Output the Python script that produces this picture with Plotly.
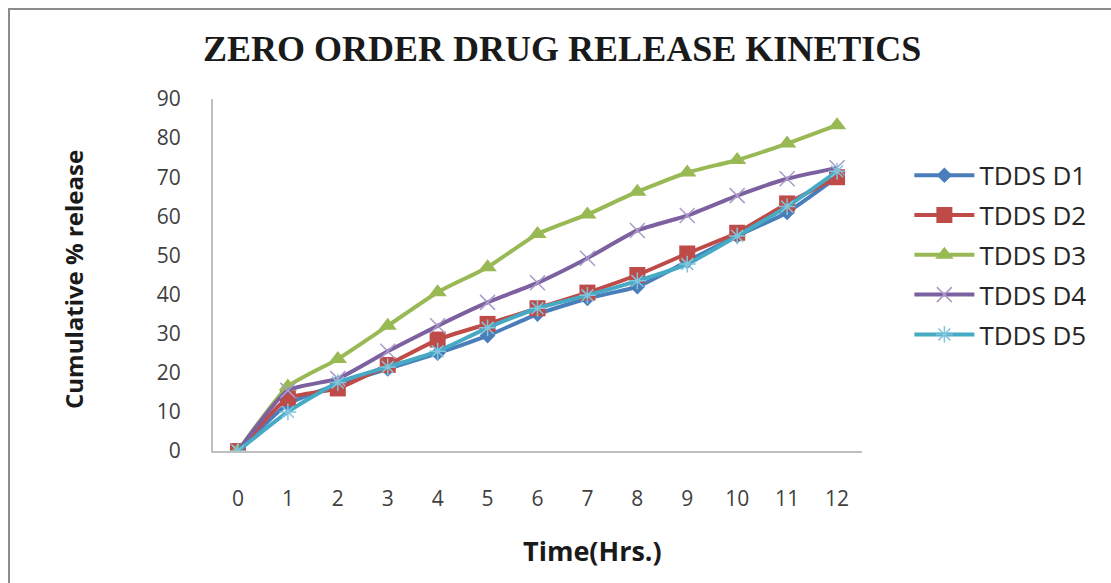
import plotly.graph_objects as go

# Sampling times (hours) and cumulative % drug released for each formulation
hours = ["0", "1", "2", "3", "4", "5", "6", "7", "8", "9", "10", "11", "12"]
d1 = [0, 12, 17, 21, 25, 29.5, 35, 39, 42, 48.5, 55, 61, 70]
d2 = [0, 13.5, 16, 22, 28.5, 32.5, 36.5, 40.5, 45, 50.5, 55.8, 63.3, 70]
d3 = [0, 16.5, 23.5, 32, 40.6, 47, 55.5, 60.5, 66.3, 71.2, 74.4, 78.6, 83.3]
d4 = [0, 15.5, 18.5, 25.5, 32, 38, 43, 49.3, 56.4, 60.2, 65.3, 69.6, 72.4]
d5 = [0, 10, 17.5, 21.5, 25.5, 31.5, 36.5, 39.8, 43.5, 47.8, 55, 62.5, 71.5]
y_ticks = [0, 10, 20, 30, 40, 50, 60, 70, 80, 90]

series = [
    ("TDDS D1", d1, "#4a7ebb", dict(symbol="diamond", size=12)),
    ("TDDS D2", d2, "#be4b48", dict(symbol="square", size=16)),
    ("TDDS D3", d3, "#98b954", dict(symbol="triangle-up", size=16)),
    ("TDDS D4", d4, "#7d60a0", dict(symbol="x-thin", size=15, line=dict(width=1.5, color="#a99bc8"))),
    ("TDDS D5", d5, "#46aac5", dict(symbol="asterisk", size=14, line=dict(width=1.5, color="#7fc6dc"))),
]

fig = go.Figure()
for i, (name, vals, color, marker) in enumerate(series):
    m = dict(color=color, **marker)
    fig.add_trace(go.Scatter(
        x=hours, y=vals, name=name, mode="lines+markers",
        line=dict(color=color, width=4, shape="spline", smoothing=0.5),
        marker=m, legendgroup=f"g{i}",
    ))

axis_font = dict(family="Open Sans, sans-serif", size=21, color="#404040")

fig.update_layout(
    width=1111, height=583,
    margin=dict(l=213, r=249, t=99, b=132),
    paper_bgcolor="white", plot_bgcolor="white",
    title=dict(
        text="<b>ZERO ORDER DRUG RELEASE KINETICS</b>",
        font=dict(family="Liberation Serif, Times New Roman, serif", size=36, color="#1a1a1a"),
        x=0.506, xanchor="center", y=0.917, yanchor="middle",
    ),
    xaxis=dict(
        type="category", range=[-0.5, 12.5],
        showgrid=False, zeroline=False,
        showline=True, linecolor="#bfbfbf", linewidth=2,
        ticks="", tickfont=axis_font, ticklabelstandoff=28,
    ),
    yaxis=dict(
        range=[0, 90], tickvals=y_ticks,
        showgrid=False, zeroline=False,
        showline=True, linecolor="#bfbfbf", linewidth=2,
        ticks="", tickfont=axis_font, ticklabelstandoff=26,
    ),
    legend=dict(
        x=1.073, xanchor="left", y=0.85, yanchor="top",
        font=dict(family="Open Sans, sans-serif", size=26, color="#262626"),
        traceorder="grouped", tracegroupgap=3, itemwidth=60,
        bgcolor="rgba(0,0,0,0)",
    ),
    showlegend=True,
)

# Axis titles
fig.add_annotation(
    text="<b>Time(Hrs.)</b>", xref="paper", yref="paper",
    x=(592 - 213) / 649, y=-(550 - 451) / 352, xanchor="center", yanchor="middle",
    showarrow=False, font=dict(family="Open Sans, sans-serif", size=27, color="#1a1a1a"),
)
fig.add_annotation(
    text="<b>Cumulative % release</b>", xref="paper", yref="paper",
    x=(73 - 213) / 649, y=(451 - 280) / 352, xanchor="center", yanchor="middle",
    textangle=-90, showarrow=False,
    font=dict(family="Open Sans, sans-serif", size=24, color="#1a1a1a"),
)

# Chart frame
fig.add_shape(
    type="rect", xref="paper", yref="paper",
    x0=(9 - 213) / 649, x1=(1130 - 213) / 649,
    y0=(451 - 600) / 352, y1=(451 - 9) / 352,
    line=dict(color="#8c8c8c", width=2), fillcolor="rgba(0,0,0,0)", layer="below",
)

fig.write_html("out.html")
